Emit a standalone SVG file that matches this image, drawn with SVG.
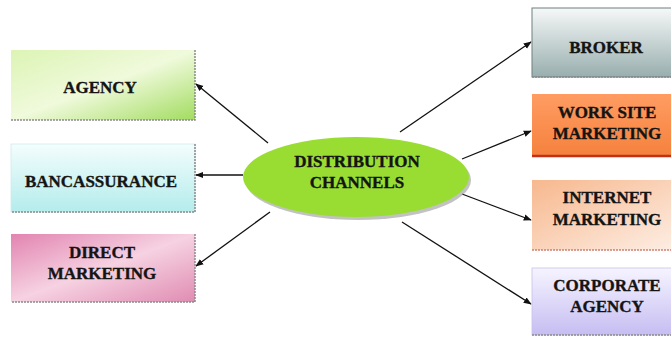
<svg xmlns="http://www.w3.org/2000/svg" width="671" height="337" viewBox="0 0 671 337">
<defs>
<linearGradient id="gAgency" x1="0" y1="0" x2="1" y2="1"><stop offset="0" stop-color="#dcf4b4"/><stop offset="0.5" stop-color="#f0fadc"/><stop offset="1" stop-color="#a2dc60"/></linearGradient>
<linearGradient id="gBanc" x1="0" y1="0" x2="0" y2="1"><stop offset="0" stop-color="#f4fdfd"/><stop offset="1" stop-color="#b4ecec"/></linearGradient>
<linearGradient id="gDirect" x1="0" y1="0" x2="1" y2="1"><stop offset="0" stop-color="#e284b0"/><stop offset="0.5" stop-color="#f6d2e2"/><stop offset="1" stop-color="#e08cb2"/></linearGradient>
<linearGradient id="gBroker" x1="0" y1="0" x2="0" y2="1"><stop offset="0" stop-color="#f6f8f8"/><stop offset="1" stop-color="#98aeae"/></linearGradient>
<linearGradient id="gWork" x1="0" y1="0" x2="0" y2="1"><stop offset="0" stop-color="#ff9c62"/><stop offset="1" stop-color="#f5823e"/></linearGradient>
<linearGradient id="gNet" x1="0" y1="0" x2="1" y2="1"><stop offset="0" stop-color="#f7b88e"/><stop offset="1" stop-color="#fdeee4"/></linearGradient>
<linearGradient id="gCorp" x1="0" y1="0" x2="0" y2="1"><stop offset="0" stop-color="#f6f4ff"/><stop offset="1" stop-color="#c6bdf2"/></linearGradient>
<marker id="arr" viewBox="0 0 10 10" refX="9" refY="5" markerWidth="8" markerHeight="8" orient="auto" markerUnits="userSpaceOnUse"><path d="M0,1 L10,5 L0,9 Z" fill="#111"/></marker>
</defs>
<style>
.lbl{font-family:"Liberation Serif","Times New Roman",serif;font-weight:bold;font-size:17px;fill:#141414;stroke:#141414;stroke-width:0.35;text-anchor:middle}
.edge{stroke:#8a8a8a;stroke-width:1.5;stroke-dasharray:2 1;fill:none}
.conn line{stroke:#111;stroke-width:1.3;marker-end:url(#arr)}
</style>
<rect width="671" height="337" fill="#ffffff"/>
<g class="conn" id="connectors">
<line x1="268" y1="143" x2="196" y2="84"/>
<line x1="243" y1="175" x2="196" y2="175"/>
<line x1="270" y1="212" x2="196" y2="266"/>
<line x1="400" y1="132" x2="531" y2="42"/>
<line x1="462" y1="159" x2="531" y2="131"/>
<line x1="462" y1="194" x2="531" y2="220"/>
<line x1="402" y1="222" x2="531" y2="304"/>
</g>
<g id="agency">
<rect x="11" y="50" width="184" height="70" fill="url(#gAgency)"/>
<path class="edge" d="M195,50 V120 H11"/>
<text class="lbl" x="100" y="93">AGENCY</text>
</g>
<g id="bancassurance">
<rect x="11" y="144" width="184" height="68" fill="url(#gBanc)" stroke="#d0eaea" stroke-width="0.8"/>
<path class="edge" d="M195,144 V212 H11"/>
<text class="lbl" x="101" y="187">BANCASSURANCE</text>
</g>
<g id="direct-marketing">
<rect x="11" y="234" width="184" height="68" fill="url(#gDirect)"/>
<path class="edge" d="M195,234 V302 H11"/>
<text class="lbl" x="102" y="258">DIRECT</text>
<text class="lbl" x="102" y="279">MARKETING</text>
</g>
<g id="distribution-channels">
<ellipse cx="358" cy="180" rx="113" ry="40" fill="#9a9a9a" opacity="0.6"/>
<ellipse cx="356" cy="177" rx="113" ry="40" fill="#99dd33"/>
<text class="lbl" x="357" y="167">DISTRIBUTION</text>
<text class="lbl" x="357" y="188">CHANNELS</text>
</g>
<g id="broker">
<rect x="532" y="8" width="145" height="69" fill="url(#gBroker)" stroke="#6f8080" stroke-width="1"/>
<path class="edge" d="M532,77 H671"/>
<text class="lbl" x="606" y="53">BROKER</text>
</g>
<g id="work-site-marketing">
<rect x="532" y="94" width="145" height="61" fill="url(#gWork)"/>
<line x1="532" y1="156" x2="671" y2="156" stroke="#c0301a" stroke-width="2.5"/>
<text class="lbl" x="607" y="118">WORK SITE</text>
<text class="lbl" x="607" y="139">MARKETING</text>
</g>
<g id="internet-marketing">
<rect x="532" y="180" width="145" height="70" fill="url(#gNet)"/>
<path class="edge" d="M532,250 H671" style="stroke:#d08070"/>
<text class="lbl" x="607" y="203">INTERNET</text>
<text class="lbl" x="607" y="225">MARKETING</text>
</g>
<g id="corporate-agency">
<rect x="532" y="268" width="145" height="67" fill="url(#gCorp)" stroke="#c8c0e8" stroke-width="0.8"/>
<path class="edge" d="M532,335 H671"/>
<text class="lbl" x="607" y="291">CORPORATE</text>
<text class="lbl" x="607" y="312">AGENCY</text>
</g>
</svg>
